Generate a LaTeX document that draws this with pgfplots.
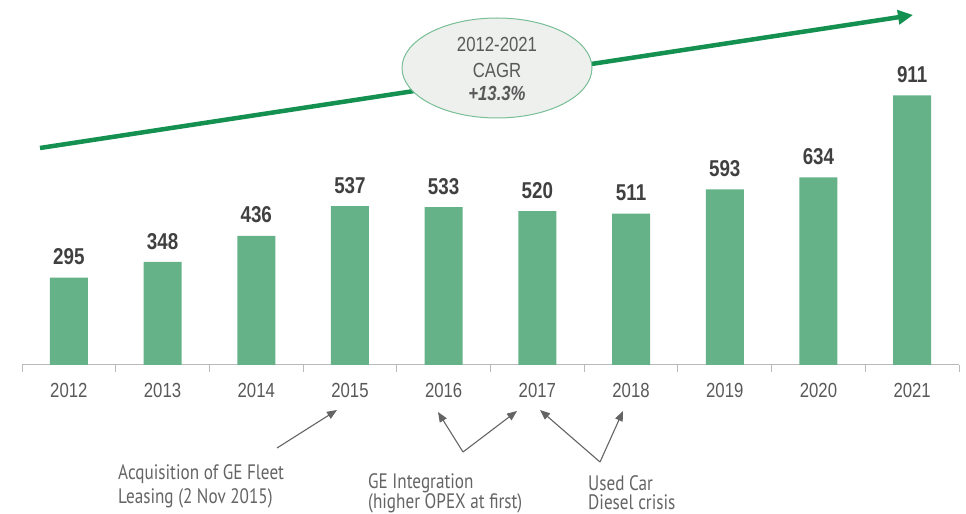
\documentclass[border=0pt]{standalone}
\usepackage{pgfplots}
\pgfplotsset{compat=1.18}
\usepackage{fontspec}
\setmainfont{Liberation Sans}[FakeStretch=0.82]
\newfontfamily\notefont{PT Sans}[FakeStretch=0.82]
\usetikzlibrary{arrows.meta,shapes.geometric}
\definecolor{barcol}{RGB}{101,178,137}
\definecolor{arrcol}{RGB}{20,145,80}
\definecolor{ellfill}{RGB}{238,240,238}
\definecolor{elldraw}{RGB}{120,190,150}
\definecolor{txtgray}{RGB}{89,89,89}
\definecolor{numgray}{RGB}{64,64,64}
\definecolor{notegray}{RGB}{100,100,100}

\begin{document}
\begin{tikzpicture}
\path[use as bounding box] (0,0) rectangle (966bp,514bp);
\begin{axis}[
  at={(22bp,149bp)}, anchor=south west,
  scale only axis, width=937bp, height=296bp,
  xmin=-0.5, xmax=9.5, ymin=0, ymax=1000,
  ybar, bar width=38bp, bar shift=0pt,
  clip=false,
  hide y axis,
  axis x line*=bottom,
  axis line style={gray!55, line width=1bp},
  /pgf/number format/assume math mode=true,
  xtick={0,...,9},
  xticklabels={2012,2013,2014,2015,2016,2017,2018,2019,2020,2021},
  minor xtick={-0.5,0.5,...,9.5},
  major tick length=0pt,
  minor tick length=7bp,
  tick align=outside,
  minor tick style={gray!55, line width=1bp},
  xticklabel style={font=\fontsize{20.5}{20.5}\selectfont, text=txtgray, anchor=north, inner sep=0pt, yshift=-18bp},
  nodes near coords,
  nodes near coords style={font=\bfseries\fontsize{23}{23}\selectfont, text=numgray, anchor=south, inner sep=0pt, yshift=12.5bp},
]
\addplot[fill=barcol, draw=none] coordinates {
  (0,295)(1,348)(2,436)(3,537)(4,533)(5,520)(6,511)(7,593)(8,634)(9,911)
};
\end{axis}

% CAGR arrow and bubble
\draw[line width=4.5bp, arrcol, -{Triangle[length=15bp,width=14bp]}] (40bp,366bp) -- (913bp,499bp);
\node[ellipse, draw=elldraw, line width=1bp, fill=ellfill, minimum width=190bp, minimum height=100bp, inner sep=0pt] at (497bp,446bp) {};
\node[text=txtgray, font=\fontsize{20.5}{20.5}\selectfont] at (497bp,470bp) {2012-2021};
\node[text=txtgray, font=\fontsize{20.5}{20.5}\selectfont] at (497bp,444bp) {CAGR};
\node[text=txtgray, font=\bfseries\itshape\fontsize{20.5}{20.5}\selectfont] at (497bp,421bp) {+13.3\%};

% annotations
\begin{scope}[notegray, line width=1.1bp, -{Triangle[length=10bp,width=8bp]}]
\draw (277bp,66bp) -- (337bp,104bp);
\draw (463bp,62bp) -- (438bp,102bp);
\draw (463bp,62bp) -- (517bp,103bp);
\draw (600bp,52bp) -- (540bp,104bp);
\draw (600bp,52bp) -- (623bp,103bp);
\end{scope}
\begin{scope}[every node/.style={text=notegray, font=\notefont\fontsize{21}{21}\selectfont, anchor=base west, inner sep=0pt}]
\node at (118bp,35bp) {Acquisition of GE Fleet};
\node at (118bp,11bp) {Leasing (2 Nov 2015)};
\node at (368bp,26bp) {GE Integration};
\node at (368bp,5.5bp) {(higher OPEX at first)};
\node at (588bp,24bp) {Used Car};
\node at (588bp,4.5bp) {Diesel crisis};
\end{scope}
\end{tikzpicture}
\end{document}
